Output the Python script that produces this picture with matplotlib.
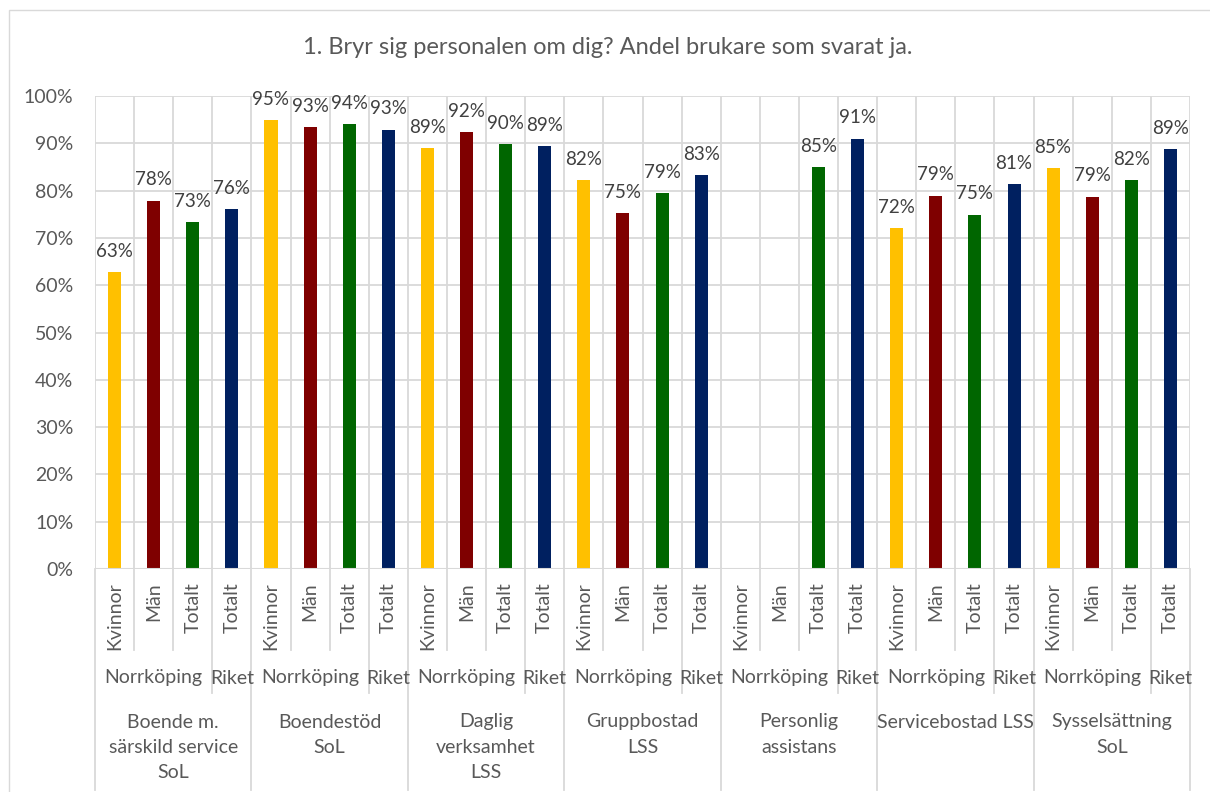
import matplotlib
matplotlib.use("Agg")
import matplotlib.pyplot as plt
import numpy as np
from matplotlib.transforms import blended_transform_factory
from matplotlib.patches import Rectangle

# ---- data ----
groups = ["Boende m.\nsärskild service\nSoL", "Boendestöd\nSoL", "Daglig\nverksamhet\nLSS",
          "Gruppbostad\nLSS", "Personlig\nassistans", "Servicebostad LSS", "Sysselsättning\nSoL"]
sub_labels = ["Kvinnor", "Män", "Totalt", "Totalt"]
region_labels = ["Norrköping", "Riket"]
series_colors = ["#FFC000", "#7F0000", "#006600", "#002060"]
kvinnor = [62.8, 94.9, 89.0, 82.2, np.nan, 72.1, 84.8]
man = [77.9, 93.4, 92.3, 75.2, np.nan, 78.9, 78.7]
totalt = [73.3, 94.0, 89.8, 79.4, 84.9, 74.9, 82.2]
riket = [76.1, 92.9, 89.4, 83.2, 91.0, 81.4, 88.8]
title = "1. Bryr sig personalen om dig? Andel brukare som svarat ja."

W, H = 1210, 792
fig = plt.figure(figsize=(W / 100, H / 100), dpi=100)
fig.patch.set_facecolor("white")

def fx(x):
    return x / W

def fy(y):
    return 1 - y / H

FONT = "Lato"
TXT = "#595959"
GRID = "#D9D9D9"
FS = 14

# outer frame
fig.add_artist(Rectangle((fx(9), fy(800)), fx(1230 - 9), fy(10) - fy(800),
                         transform=fig.transFigure, fill=False, edgecolor=GRID, lw=1.0))

L, R, T, B = 95, 1190, 96, 569
ax = fig.add_axes([fx(L), fy(B), fx(R - L), fy(T) - fy(B)])

series = [kvinnor, man, totalt, riket]
ng = len(groups)
nsub = len(sub_labels)
nslots = ng * nsub
ax.set_xlim(-0.5, nslots - 0.5)
ax.set_ylim(0, 100)

bw = 13 / 39
for si, vals in enumerate(series):
    for gi, v in enumerate(vals):
        if np.isnan(v):
            continue
        x = gi * nsub + si
        ax.bar(x, v, width=bw, color=series_colors[si], zorder=3)
        ax.annotate(f"{v:.0f}%", (x, v), xytext=(0, 15), textcoords="offset points",
                    ha="center", va="center", fontsize=13.5, color="#404040", family=FONT)

# grid
ax.set_yticks(np.arange(0, 101, 10))
ax.set_yticklabels([f"{t}%" for t in range(0, 101, 10)], fontsize=FS, color=TXT, family=FONT)
ax.tick_params(axis="y", length=0, pad=15.5)
ax.set_xticks([])
for yv in range(10, 101, 10):
    ax.axhline(yv, color=GRID, lw=1.3, zorder=1)
for b in range(nslots + 1):
    ax.axvline(b - 0.5, color=GRID, lw=1.3, zorder=1)
ax.axhline(0, color=GRID, lw=1.5, zorder=4)
for s in ax.spines.values():
    s.set_visible(False)

# category axis separators below
tr = blended_transform_factory(ax.transData, fig.transFigure)
for b in range(nslots + 1):
    if b % nsub == 0:
        yend = 790
    elif b % nsub == nsub - 1:
        yend = 693
    else:
        yend = 650
    ax.plot([b - 0.5, b - 0.5], [fy(B), fy(yend)], color=GRID, lw=1.3,
            transform=tr, clip_on=False)

# category labels
for gi in range(ng):
    for si in range(nsub):
        x = gi * nsub + si
        ax.text(x, fy(582), sub_labels[si], rotation=90, ha="center", va="top",
                fontsize=FS, color=TXT, family=FONT, transform=tr)
    ax.text(gi * nsub + 1, fy(678), region_labels[0], ha="center", va="center",
            fontsize=FS, color=TXT, family=FONT, transform=tr)
    ax.text(gi * nsub + 3, fy(678), region_labels[1], ha="center", va="center",
            fontsize=FS, color=TXT, family=FONT, transform=tr)
    for li, line in enumerate(groups[gi].split("\n")):
        ax.text(gi * nsub + 1.5, fy(722 + 25.5 * li), line, ha="center", va="center",
                fontsize=FS, color=TXT, family=FONT, transform=tr)

fig.text(fx(608), fy(48), title, ha="center", va="center", fontsize=17,
         color=TXT, family=FONT)

fig.savefig("out.png", dpi=100, facecolor="white")
